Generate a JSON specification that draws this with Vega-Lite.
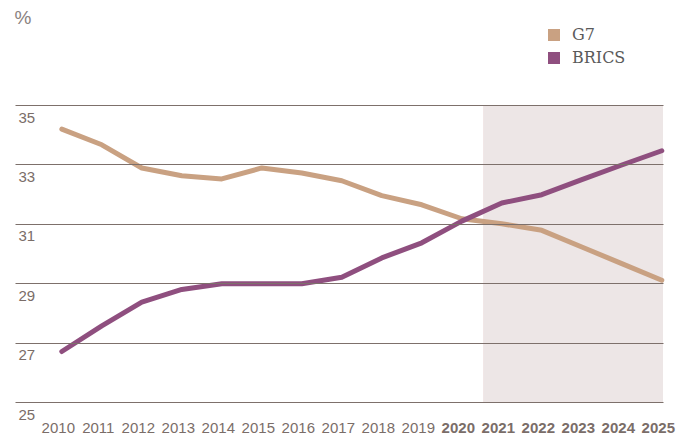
{
  "$schema": "https://vega.github.io/schema/vega-lite/v6.json",
  "autosize": {"type": "none"},
  "width": 648,
  "height": 297,
  "padding": {"left": 15, "top": 105, "right": 21, "bottom": 34},
  "background": "#ffffff",
  "config": {"view": {"stroke": null}},
  "data": {"values": [
    {"year": 2010, "group": "G7", "value": 34.19},
    {"year": 2011, "group": "G7", "value": 33.66},
    {"year": 2012, "group": "G7", "value": 32.88},
    {"year": 2013, "group": "G7", "value": 32.62},
    {"year": 2014, "group": "G7", "value": 32.51},
    {"year": 2015, "group": "G7", "value": 32.88},
    {"year": 2016, "group": "G7", "value": 32.71},
    {"year": 2017, "group": "G7", "value": 32.45},
    {"year": 2018, "group": "G7", "value": 31.95},
    {"year": 2019, "group": "G7", "value": 31.64},
    {"year": 2020, "group": "G7", "value": 31.17},
    {"year": 2021, "group": "G7", "value": 31.0},
    {"year": 2022, "group": "G7", "value": 30.78},
    {"year": 2023, "group": "G7", "value": 30.22},
    {"year": 2024, "group": "G7", "value": 29.66},
    {"year": 2025, "group": "G7", "value": 29.1},
    {"year": 2010, "group": "BRICS", "value": 26.7},
    {"year": 2011, "group": "BRICS", "value": 27.56},
    {"year": 2012, "group": "BRICS", "value": 28.36},
    {"year": 2013, "group": "BRICS", "value": 28.79},
    {"year": 2014, "group": "BRICS", "value": 28.98},
    {"year": 2015, "group": "BRICS", "value": 28.98},
    {"year": 2016, "group": "BRICS", "value": 28.98},
    {"year": 2017, "group": "BRICS", "value": 29.2},
    {"year": 2018, "group": "BRICS", "value": 29.85},
    {"year": 2019, "group": "BRICS", "value": 30.36},
    {"year": 2020, "group": "BRICS", "value": 31.09},
    {"year": 2021, "group": "BRICS", "value": 31.7},
    {"year": 2022, "group": "BRICS", "value": 31.98},
    {"year": 2023, "group": "BRICS", "value": 32.49},
    {"year": 2024, "group": "BRICS", "value": 32.98},
    {"year": 2025, "group": "BRICS", "value": 33.46}
  ]},
  "layer": [
    {
      "mark": {"type": "rect", "color": "#ede6e6", "opacity": 1},
      "encoding": {
        "x": {"datum": 2020.55, "type": "quantitative"},
        "x2": {"datum": 2025.03}
      }
    },
    {
      "mark": {"type": "line", "strokeWidth": 5, "strokeCap": "round", "strokeJoin": "round"},
      "encoding": {
        "x": {
          "field": "year", "type": "quantitative",
          "scale": {"domain": [2008.83, 2025.03], "nice": false, "zero": false},
          "axis": {
            "title": null,
            "values": [2010,2011,2012,2013,2014,2015,2016,2017,2018,2019,2020,2021,2022,2023,2024,2025],
            "format": "d",
            "domain": false, "ticks": false, "grid": false,
            "labelFont": "Liberation Sans",
            "labelFontSize": 15,
            "labelColor": "#7a6d68",
            "labelFontWeight": {"condition": {"test": "datum.value >= 2020", "value": "bold"}, "value": "normal"},
            "labelPadding": 18,
            "labelOffset": -4,
            "labelOverlap": false,
            "labelFlush": false,
            "labelBound": false
          }
        },
        "y": {
          "field": "value", "type": "quantitative",
          "scale": {"domain": [25, 35], "nice": false, "zero": false},
          "axis": {
            "zindex": 1,
            "title": "%",
            "titleAngle": 0,
            "titleX": -1,
            "titleY": -82,
            "titleAlign": "left",
            "titleBaseline": "alphabetic",
            "titleFont": "Liberation Sans",
            "titleFontSize": 19,
            "titleFontWeight": "normal",
            "titleColor": "#8a8280",
            "values": [25, 27, 29, 31, 33, 35],
            "domain": false, "ticks": false,
            "grid": true, "gridColor": "#7d706b", "gridWidth": 1, "gridOpacity": 1,
            "labelFont": "Liberation Sans",
            "labelFontSize": 15,
            "labelColor": "#7a6d68",
            "labelAlign": "left",
            "labelBaseline": "top",
            "labelPadding": -3,
            "labelOffset": 5
          }
        },
        "color": {
          "field": "group", "type": "nominal",
          "scale": {"domain": ["G7", "BRICS"], "range": ["#c9a182", "#8f4f7f"]},
          "legend": {
            "title": null,
            "orient": "none",
            "legendX": 531,
            "legendY": -78,
            "padding": 0,
            "symbolType": "square",
            "symbolSize": 144,
            "symbolStrokeWidth": 0,
            "labelFont": "DejaVu Serif",
            "labelFontSize": 16,
            "labelColor": "#5a5a5a",
            "labelOffset": 10,
            "rowPadding": 7,
            "encode": {
              "symbols": {
                "update": {
                  "fill": {"scale": "color", "field": "value"},
                  "fillOpacity": {"value": 1},
                  "strokeWidth": {"value": 0}
                }
              }
            }
          }
        }
      }
    }
  ]
}
